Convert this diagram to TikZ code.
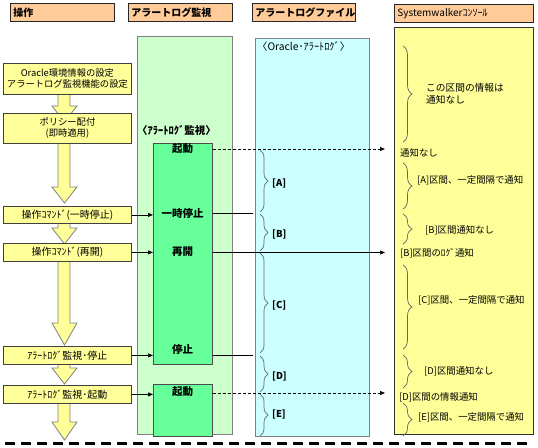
\documentclass[tikz,border=0pt]{standalone}
\usepackage{fontspec}
\setmainfont{Noto Sans CJK JP}
\usetikzlibrary{arrows.meta,decorations.pathreplacing}
\definecolor{hdrc}{HTML}{FFCC99}
\definecolor{ylw}{HTML}{FFFF99}
\definecolor{lgrn}{HTML}{CCFFCC}
\definecolor{dgrn}{HTML}{66FF99}
\definecolor{cyn}{HTML}{CCFFFF}
\definecolor{pgray}{HTML}{808080}
\newcommand{\blockarr}[3]{\draw[blockarrow] (58,#1) -- (58,#2) -- (52,#2) -- (64.5,#3) -- (77,#2) -- (70,#2) -- (70,#1);}
\begin{document}
\begin{tikzpicture}[x=1pt,y=-1pt,
  hdrbox/.style={draw=black!85, fill=hdrc, line width=0.8pt, anchor=north west, inner xsep=3pt, inner ysep=0pt,
    minimum height=18pt, align=left, font=\fontsize{10}{12}\selectfont\bfseries},
  panel/.style={draw=pgray, line width=0.9pt, anchor=north west, inner sep=0pt},
  opbox/.style={draw=black!75, fill=ylw, line width=0.8pt, anchor=north west, inner sep=0pt, minimum width=128pt,
    align=center, font=\fontsize{9.3}{12}\selectfont},
  blockarrow/.style={draw=pgray, fill=ylw, line width=0.8pt},
  gbox/.style={draw=black!70, fill=dgrn, line width=0.9pt, anchor=north west, inner sep=0pt, minimum width=59pt},
  glabel/.style={font=\fontsize{10.5}{12}\selectfont\bfseries, inner sep=0pt},
  conn/.style={line width=0.7pt, -{Triangle[length=5pt,width=4pt]}},
  plain/.style={line width=0.7pt},
  dconn/.style={line width=0.7pt, dash pattern=on 3pt off 2pt, -{Triangle[length=5pt,width=4pt]}},
  brc/.style={draw=black!60, line width=0.7pt, decorate, decoration={brace, amplitude=#1}},
  brc/.default=8pt,
  lbl/.style={anchor=west, inner sep=0pt, font=\fontsize{9.4}{11}\selectfont},
  blbl/.style={anchor=west, inner sep=0pt, font=\fontsize{9.5}{11}\selectfont\bfseries}
]
\useasboundingbox (0,0) rectangle (538,447);
% headers
\node[hdrbox, text width=98pt] (h1) at (10,3) {操作};
\node[hdrbox, text width=98pt] (h2) at (128,3) {アラートログ監視};
\node[hdrbox, text width=97pt] (h3) at (252,3) {アラートログファイル};
\node[hdrbox, text width=133pt, font=\fontsize{10}{12}\selectfont] (h4) at (394,4) {Systemwalkerｺﾝｿｰﾙ};
% panels
\node[panel, fill=lgrn, minimum width=95pt, minimum height=398pt] (gp) at (137,36) {};
\node[panel, fill=cyn, minimum width=114pt, minimum height=398pt] (cp) at (255,38) {};
\node[panel, draw=black!80, fill=ylw, minimum width=139pt, minimum height=407pt] (sp) at (394,27) {};
\node[anchor=west, inner sep=0pt, font=\fontsize{10.5}{12}\selectfont\bfseries] (gpt) at (137,130) {〈ｱﾗｰﾄﾛｸﾞ監視〉};
\node[anchor=west, inner sep=0pt, font=\fontsize{10.3}{12}\selectfont] (cpt) at (257,47) {〈Oracle･ｱﾗｰﾄﾛｸﾞ〉};
% block arrows
\blockarr{94}{106}{122}
\blockarr{143}{187}{203}
\blockarr{223}{228}{244}
\blockarr{261}{323}{345}
\blockarr{364}{368}{384}
\blockarr{403}{422}{440}
% operation boxes
\node[opbox, minimum height=31pt] (b1) at (3,63) {Oracle環境情報の設定\\[-1pt]アラートログ監視機能の設定};
\node[opbox, minimum height=30pt] (b2) at (3,113) {ポリシー配付\\[-1pt](即時適用)};
\node[opbox, minimum height=17pt, font=\fontsize{10}{12}\selectfont] (b3) at (3,206) {操作ｺﾏﾝﾄﾞ(一時停止)};
\node[opbox, minimum height=18pt, font=\fontsize{10}{12}\selectfont] (b4) at (3,243) {操作ｺﾏﾝﾄﾞ(再開)};
\node[opbox, minimum height=18pt, font=\fontsize{10}{12}\selectfont] (b5) at (3,346) {ｱﾗｰﾄﾛｸﾞ監視･停止};
\node[opbox, minimum height=18pt, font=\fontsize{10}{12}\selectfont] (b6) at (3,385) {ｱﾗｰﾄﾛｸﾞ監視･起動};
% green boxes
\node[gbox, minimum height=221pt] (g1) at (153,143) {};
\node[gbox, minimum height=52pt] (g2) at (153,384) {};
\node[glabel] (s1) at (182.5,149) {起動};
\node[glabel] (s2) at (182.5,214) {一時停止};
\node[glabel] (s3) at (182.5,252) {再開};
\node[glabel] (s4) at (182.5,350) {停止};
\node[glabel] (s5) at (182.5,392) {起動};
% operation -> monitor arrows
\draw[conn] (b3.east) -- (b3.east -| g1.west);
\draw[conn] (b4.east) -- (b4.east -| g1.west);
\draw[conn] (b5.east) -- (b5.east -| g1.west);
\draw[conn] (b6.east) -- (b6.east -| g2.west);
% monitor -> log/console
\coordinate (e1) at (385,149);
\coordinate (e2) at (253,213);
\coordinate (e3) at (385,252.5);
\coordinate (e4) at (253,355);
\coordinate (e5) at (385,393);
\draw[dconn] (g1.east |- e1) -- (e1);
\draw[plain] (g1.east |- e2) -- (e2);
\draw[conn] (g1.east |- e3) -- (e3);
\draw[plain] (g1.east |- e4) -- (e4);
\draw[dconn] (g2.east |- e5) -- (e5);
% braces in log file
\draw[brc] (260,150) -- (260,212);
\draw[brc] (260,214) -- (260,251);
\draw[brc] (260,253) -- (260,353);
\draw[brc] (260,356) -- (260,392);
\draw[brc] (260,394) -- (260,436);
\node[blbl] (la) at (272,183) {[A]};
\node[blbl] (lb) at (272,234) {[B]};
\node[blbl] (lc) at (272,305) {[C]};
\node[blbl] (ld) at (272,376) {[D]};
\node[blbl] (le) at (272,414) {[E]};
% console braces and texts
\draw[brc=9pt] (403,46) -- (403,142);
\draw[brc=9pt] (403,163) -- (403,209);
\draw[brc=9pt] (403,214) -- (403,244);
\draw[brc=9pt] (403,265) -- (403,349);
\draw[brc=9pt] (403,355) -- (403,388);
\draw[brc=9pt] (403,403) -- (403,436);
\node[lbl, align=left, font=\fontsize{9.7}{12}\selectfont] (c0) at (426,94) {この区間の情報は\\通知なし};
\node[lbl] (c1) at (400,153) {通知なし};
\node[lbl] (c2) at (417,180) {[A]区間、一定間隔で通知};
\node[lbl] (c3) at (425,230) {[B]区間通知なし};
\node[lbl] (c4) at (400,253) {[B]区間のﾛｸﾞ通知};
\node[lbl] (c5) at (418,300) {[C]区間、一定間隔で通知};
\node[lbl] (c6) at (424,371) {[D]区間通知なし};
\node[lbl] (c7) at (399,397) {[D]区間の情報通知};
\node[lbl] (c8) at (418,417) {[E]区間、一定間隔で通知};
% bottom dashed line
\coordinate (d0) at (5,443);
\coordinate (d1) at (533,443);
\draw[line width=3pt, dash pattern=on 10pt off 6pt] (d0) -- (d1);
\end{tikzpicture}
\end{document}
